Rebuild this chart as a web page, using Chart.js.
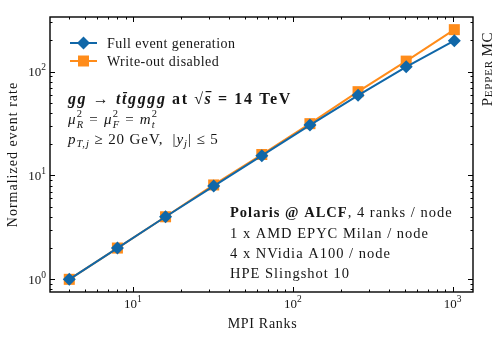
<!DOCTYPE html>
<html>
<head>
<meta charset="utf-8">
<script src="https://cdn.jsdelivr.net/npm/chart.js@4/dist/chart.umd.min.js"></script>
<style>
  html, body { margin: 0; padding: 0; background: #fff; }
  #wrap { width: 498px; height: 343px; }
</style>
</head>
<body>
<div id="wrap"><canvas id="scaling"></canvas></div>
<script>
const ranks = [4, 8, 16, 32, 64, 128, 256, 512, 1024];
const fullEventGen = [1, 2, 4, 7.9, 15.5, 30.5, 59, 111, 198];
const writeOutDisabled = [1, 2, 4, 8.1, 15.9, 31.5, 64, 126, 253];
const seriesLabels = ["Full event generation", "Write-out disabled"];
const xDecades = [1, 2, 3];
const yDecades = [0, 1, 2];

const BLUE = "#1067a8";
const ORANGE = "#ff8c1a";
const SERIF = "'Liberation Serif', 'DejaVu Serif', serif";
const INK = "#151515";

function drawRuns(ctx, x, y, runs, ls) {
  ctx.letterSpacing = (ls || 0) + "px";
  runs.forEach((r) => {
    ctx.font = r.f;
    const dy = r.dy || 0;
    ctx.fillText(r.t, x, y + dy);
    const w = ctx.measureText(r.t).width;
    if (r.over) ctx.fillRect(x + 1, y + dy - r.over, w - 2, 1.2);
    if (!r.stay) x += w;
  });
  ctx.letterSpacing = "0px";
  return x;
}

function runsWidth(ctx, runs, ls) {
  ctx.letterSpacing = (ls || 0) + "px";
  let w = 0;
  runs.forEach((r) => { ctx.font = r.f; if (!r.stay) w += ctx.measureText(r.t).width; });
  ctx.letterSpacing = "0px";
  return w;
}

function powerRuns(e) {
  return [{ t: "10", f: "13px " + SERIF }, { t: String(e), f: "9.5px " + SERIF, dy: -6 }];
}

// inward ticks on all four sides, frame, labels, legend and annotations
const decorations = {
  id: "decorations",
  afterDraw(chart) {
    const { ctx, chartArea: a, scales } = chart;
    const xs = scales.x, ys = scales.y;
    ctx.save();
    ctx.strokeStyle = "#000";
    ctx.lineWidth = 1;
    const minors = [];
    for (let e = -1; e <= 4; e++) for (let s = 1; s <= 9; s++) minors.push({ v: s * Math.pow(10, e), major: s === 1 });
    minors.forEach((t) => {
      const len = t.major ? 5 : 2.5;
      if (t.v >= xs.min && t.v <= xs.max) {
        const px = Math.round(xs.getPixelForValue(t.v)) + 0.5;
        ctx.beginPath();
        ctx.moveTo(px, a.bottom); ctx.lineTo(px, a.bottom - len);
        ctx.moveTo(px, a.top); ctx.lineTo(px, a.top + len);
        ctx.stroke();
      }
      if (t.v >= ys.min && t.v <= ys.max) {
        const py = Math.round(ys.getPixelForValue(t.v)) + 0.5;
        ctx.beginPath();
        ctx.moveTo(a.left, py); ctx.lineTo(a.left + len, py);
        ctx.moveTo(a.right, py); ctx.lineTo(a.right - len, py);
        ctx.stroke();
      }
    });
    ctx.lineWidth = 1.4;
    ctx.strokeRect(a.left, a.top, a.right - a.left, a.bottom - a.top);

    // tick labels
    ctx.fillStyle = INK;
    ctx.textBaseline = "alphabetic";
    xDecades.forEach((e) => {
      const runs = powerRuns(e);
      const w = runsWidth(ctx, runs);
      drawRuns(ctx, xs.getPixelForValue(Math.pow(10, e)) - w / 2, a.bottom + 16, runs);
    });
    yDecades.forEach((e) => {
      const runs = powerRuns(e);
      const w = runsWidth(ctx, runs);
      drawRuns(ctx, a.left - 4 - w, ys.getPixelForValue(Math.pow(10, e)) + 4.5, runs);
    });

    // axis titles
    const titleFont = "14px " + SERIF;
    const xt = [{ t: "MPI Ranks", f: titleFont }];
    drawRuns(ctx, (a.left + a.right) / 2 + 1 - runsWidth(ctx, xt, 0.7) / 2, a.bottom + 36, xt, 0.7);
    ctx.save();
    ctx.translate(17, (a.top + a.bottom) / 2);
    ctx.rotate(-Math.PI / 2);
    const yt = [{ t: "Normalized event rate", f: titleFont }];
    drawRuns(ctx, -runsWidth(ctx, yt, 1) / 2, 0, yt, 1);
    ctx.restore();

    // legend
    const lx = a.left + 20, ly = a.top + 26;
    chart.data.datasets.forEach((ds, i) => {
      const y = ly + i * 18;
      ctx.strokeStyle = ds.borderColor;
      ctx.lineWidth = 2;
      ctx.beginPath(); ctx.moveTo(lx, y); ctx.lineTo(lx + 27, y); ctx.stroke();
      ctx.fillStyle = ds.backgroundColor;
      ctx.beginPath();
      if (ds.pointStyle === "rectRot") {
        const r = 6.5;
        ctx.moveTo(lx + 13.5 - r, y); ctx.lineTo(lx + 13.5, y - r);
        ctx.lineTo(lx + 13.5 + r, y); ctx.lineTo(lx + 13.5, y + r);
      } else {
        ctx.rect(lx + 13.5 - 5.5, y - 5.5, 11, 11);
      }
      ctx.closePath(); ctx.fill();
      ctx.fillStyle = INK;
      drawRuns(ctx, lx + 37, y + 5, [{ t: ds.label, f: "14px " + SERIF }], 0.45);
    });

    // process annotation
    const bi = "italic bold 16px " + SERIF, b = "bold 16px " + SERIF;
    drawRuns(ctx, a.left + 18, a.top + 87, [
      { t: "gg", f: bi }, { t: " \u2192 ", f: b }, { t: "t", f: bi }, { t: "t", f: bi, over: 12 },
      { t: "gggg", f: bi }, { t: " at ", f: b }, { t: "\u221a", f: b }, { t: "s", f: bi, over: 13 },
      { t: " = 14 TeV", f: b }
    ], 1.6);
    const it = "italic 15px " + SERIF, rm = "15px " + SERIF, sm = "italic 10.5px " + SERIF, smr = "10.5px " + SERIF;
    drawRuns(ctx, a.left + 18, a.top + 107, [
      { t: "\u03bc", f: it }, { t: "2", f: smr, dy: -7, stay: true }, { t: "R", f: sm, dy: 4 },
      { t: " = ", f: rm },
      { t: "\u03bc", f: it }, { t: "2", f: smr, dy: -7, stay: true }, { t: "F", f: sm, dy: 4 },
      { t: " = ", f: rm },
      { t: "m", f: it }, { t: "2", f: smr, dy: -7, stay: true }, { t: "t", f: sm, dy: 4 }
    ], 1.2);
    drawRuns(ctx, a.left + 18, a.top + 127, [
      { t: "p", f: it }, { t: "T,j", f: sm, dy: 3 }, { t: " \u2265 20 GeV,  |", f: rm },
      { t: "y", f: it }, { t: "j", f: sm, dy: 3 }, { t: "| \u2264 5", f: rm }
    ], 0.9);

    // machine annotation
    const t14 = "14.5px " + SERIF;
    const bx = 230;
    drawRuns(ctx, bx, 217, [{ t: "Polaris @ ALCF", f: "bold 14.5px " + SERIF }, { t: ", 4 ranks / node", f: t14 }], 1);
    drawRuns(ctx, bx, 238, [{ t: "1 x AMD EPYC Milan / node", f: t14 }], 1);
    drawRuns(ctx, bx, 258, [{ t: "4 x NVidia A100 / node", f: t14 }], 1);
    drawRuns(ctx, bx, 278, [{ t: "HPE Slingshot 10", f: t14 }], 1);

    // generator label on the right, small caps
    ctx.save();
    ctx.translate(a.right + 19, a.top + 52);
    ctx.rotate(-Math.PI / 2);
    const gen = [{ t: "P", f: "15px " + SERIF }, { t: "EPPER ", f: "11px " + SERIF }, { t: "MC", f: "15px " + SERIF }];
    drawRuns(ctx, -runsWidth(ctx, gen, 0.8) / 2, 0, gen, 0.8);
    ctx.restore();
    ctx.restore();
  }
};

const data = {
  labels: ranks,
  datasets: [
    {
      label: seriesLabels[0],
      data: ranks.map((r, i) => ({ x: r, y: fullEventGen[i] })),
      borderColor: BLUE,
      backgroundColor: BLUE,
      borderWidth: 2,
      pointStyle: "rectRot",
      pointRadius: 6.5,
      pointBorderWidth: 0,
    },
    {
      label: seriesLabels[1],
      data: ranks.map((r, i) => ({ x: r, y: writeOutDisabled[i] })),
      borderColor: ORANGE,
      backgroundColor: ORANGE,
      borderWidth: 2,
      pointStyle: "rect",
      pointRadius: 7.8,
      pointBorderWidth: 0,
    },
  ],
};

const config = {
  type: "line",
  data: data,
  plugins: [decorations],
  options: {
    responsive: false,
    animation: false,
    layout: { padding: { top: 17, right: 25, left: 0, bottom: 0 } },
    plugins: { legend: { display: false }, tooltip: { enabled: false } },
    scales: {
      x: {
        type: "logarithmic",
        min: 3.03,
        max: 1340,
        grid: { display: false },
        border: { display: false },
        ticks: { display: false },
        afterFit: (s) => { s.height = 51; },
      },
      y: {
        type: "logarithmic",
        min: 0.755,
        max: 335,
        grid: { display: false },
        border: { display: false },
        ticks: { display: false },
        afterFit: (s) => { s.width = 50; },
      },
    },
  },
};

const canvas = document.getElementById("scaling");
canvas.width = 498;
canvas.height = 343;
const scalingChart = new Chart(canvas, config);
</script>
</body>
</html>
